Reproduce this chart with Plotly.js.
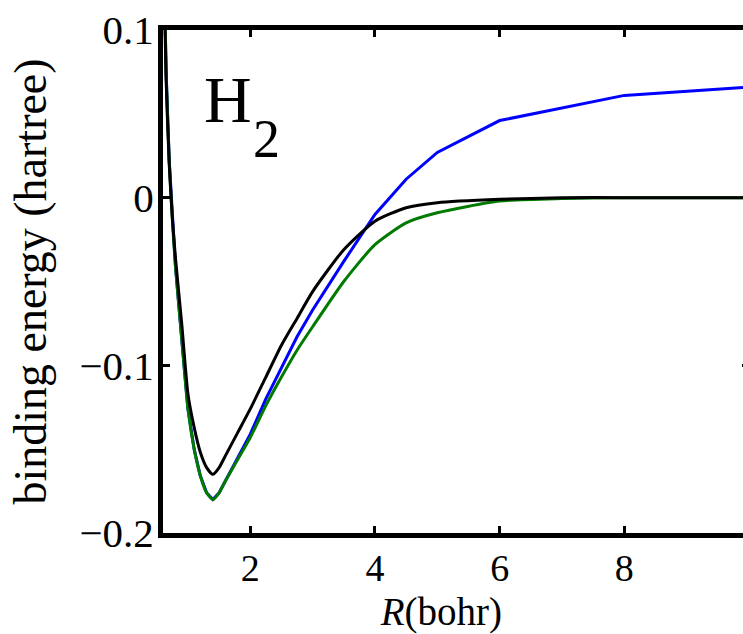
<!DOCTYPE html>
<html>
<head>
<meta charset="utf-8">
<script src="https://cdn.plot.ly/plotly-3.0.1.min.js"></script>
<style>
html,body{margin:0;padding:0;overflow:hidden;background:#fff;}
#chart{width:760px;height:634px;}
</style>
</head>
<body>
<div id="chart"></div>
<script>
// Bond length R (bohr)
var R_black = [0.6,0.65,0.7,0.75,0.8,0.9,1.0,1.1,1.2,1.3,1.4,1.5,1.6,1.8,2.0,2.25,2.5,2.75,3.0,3.5,4.0,4.5,5.0,6.0,7.0,8.0,10.0];
var E_black = [0.16,0.07,0.02,-0.012,-0.036,-0.075,-0.117,-0.137,-0.152,-0.161,-0.165,-0.161,-0.154,-0.140,-0.126,-0.107,-0.088,-0.072,-0.056,-0.031,-0.014,-0.006,-0.003,-0.001,0,0,0];

var R_green = [0.6,0.65,0.7,0.75,0.8,0.9,1.0,1.1,1.2,1.3,1.4,1.5,1.6,1.8,2.0,2.25,2.5,2.75,3.0,3.5,4.0,4.5,5.0,6.0,7.0,8.0,10.0];
var E_green = [0.17,0.075,0.022,-0.013,-0.041,-0.084,-0.126,-0.150,-0.166,-0.176,-0.180,-0.176,-0.169,-0.156,-0.143,-0.124,-0.107,-0.091,-0.077,-0.050,-0.028,-0.015,-0.009,-0.002,-0.0005,0,0];

var R_blue = [0.6,0.65,0.7,0.75,0.8,0.9,1.0,1.1,1.2,1.3,1.4,1.5,1.6,1.8,2.0,2.25,2.5,2.75,3.0,3.5,4.0,4.5,5.0,6.0,8.0,10.0];
var E_blue = [0.17,0.075,0.022,-0.013,-0.041,-0.084,-0.126,-0.150,-0.166,-0.176,-0.180,-0.176,-0.169,-0.155,-0.141,-0.120,-0.101,-0.083,-0.067,-0.038,-0.010,0.011,0.027,0.046,0.061,0.066];

var xTicks = [2,4,6,8,10];
var yTicks = [-0.2,-0.1,0,0.1];
var yTickText = ['\u22120.2','\u22120.1','0','0.1'];

var serif = 'Liberation Serif';

var traces = [
  {x:R_blue, y:E_blue, mode:'lines', line:{color:'#0000ff', width:3}, name:'blue', showlegend:false, hoverinfo:'skip'},
  {x:R_green, y:E_green, mode:'lines', line:{color:'#007a00', width:3, shape:'spline', smoothing:0.6}, name:'green', showlegend:false, hoverinfo:'skip'},
  {x:R_black, y:E_black, mode:'lines', line:{color:'#000000', width:3, shape:'spline', smoothing:0.6}, name:'black', showlegend:false, hoverinfo:'skip'}
];

var layout = {
  width:760, height:634,
  margin:{l:163, r:11, t:30, b:101},
  paper_bgcolor:'#fff', plot_bgcolor:'#fff',
  font:{family:serif, size:40, color:'#000'},
  xaxis:{
    range:[0.6,10], tickvals:xTicks, ticktext:xTicks.map(String),
    ticks:'inside', ticklen:7, tickwidth:3, tickcolor:'#000',
    showline:true, linewidth:5, linecolor:'#000', mirror:'ticks',
    showgrid:false, zeroline:false,
    tickfont:{family:serif, size:38},
    ticklabelstandoff:-3,
    title:{text:'<i>R</i>(bohr)&nbsp;&nbsp;&nbsp;', font:{family:serif, size:39}},
    automargin:false
  },
  yaxis:{
    range:[-0.2,0.1], tickvals:yTicks, ticktext:yTickText,
    ticks:'inside', ticklen:7, tickwidth:3, tickcolor:'#000',
    showline:true, linewidth:5, linecolor:'#000', mirror:'ticks',
    showgrid:false, zeroline:false,
    tickfont:{family:serif, size:41},
    ticklabelstandoff:-4,
    title:{text:'binding energy (hartree)', font:{family:serif, size:46}, standoff:20},
    automargin:false
  },
  annotations:[
    {xref:'paper', yref:'paper', x:0.111, y:0.861, xanchor:'center', yanchor:'middle', text:'H', showarrow:false, font:{family:serif, size:66, color:'#000'}},
    {xref:'paper', yref:'paper', x:0.176, y:0.783, xanchor:'center', yanchor:'middle', text:'2', showarrow:false, font:{family:serif, size:54, color:'#000'}}
  ]
};

Plotly.newPlot('chart', traces, layout, {staticPlot:true, displayModeBar:false});
</script>
</body>
</html>
